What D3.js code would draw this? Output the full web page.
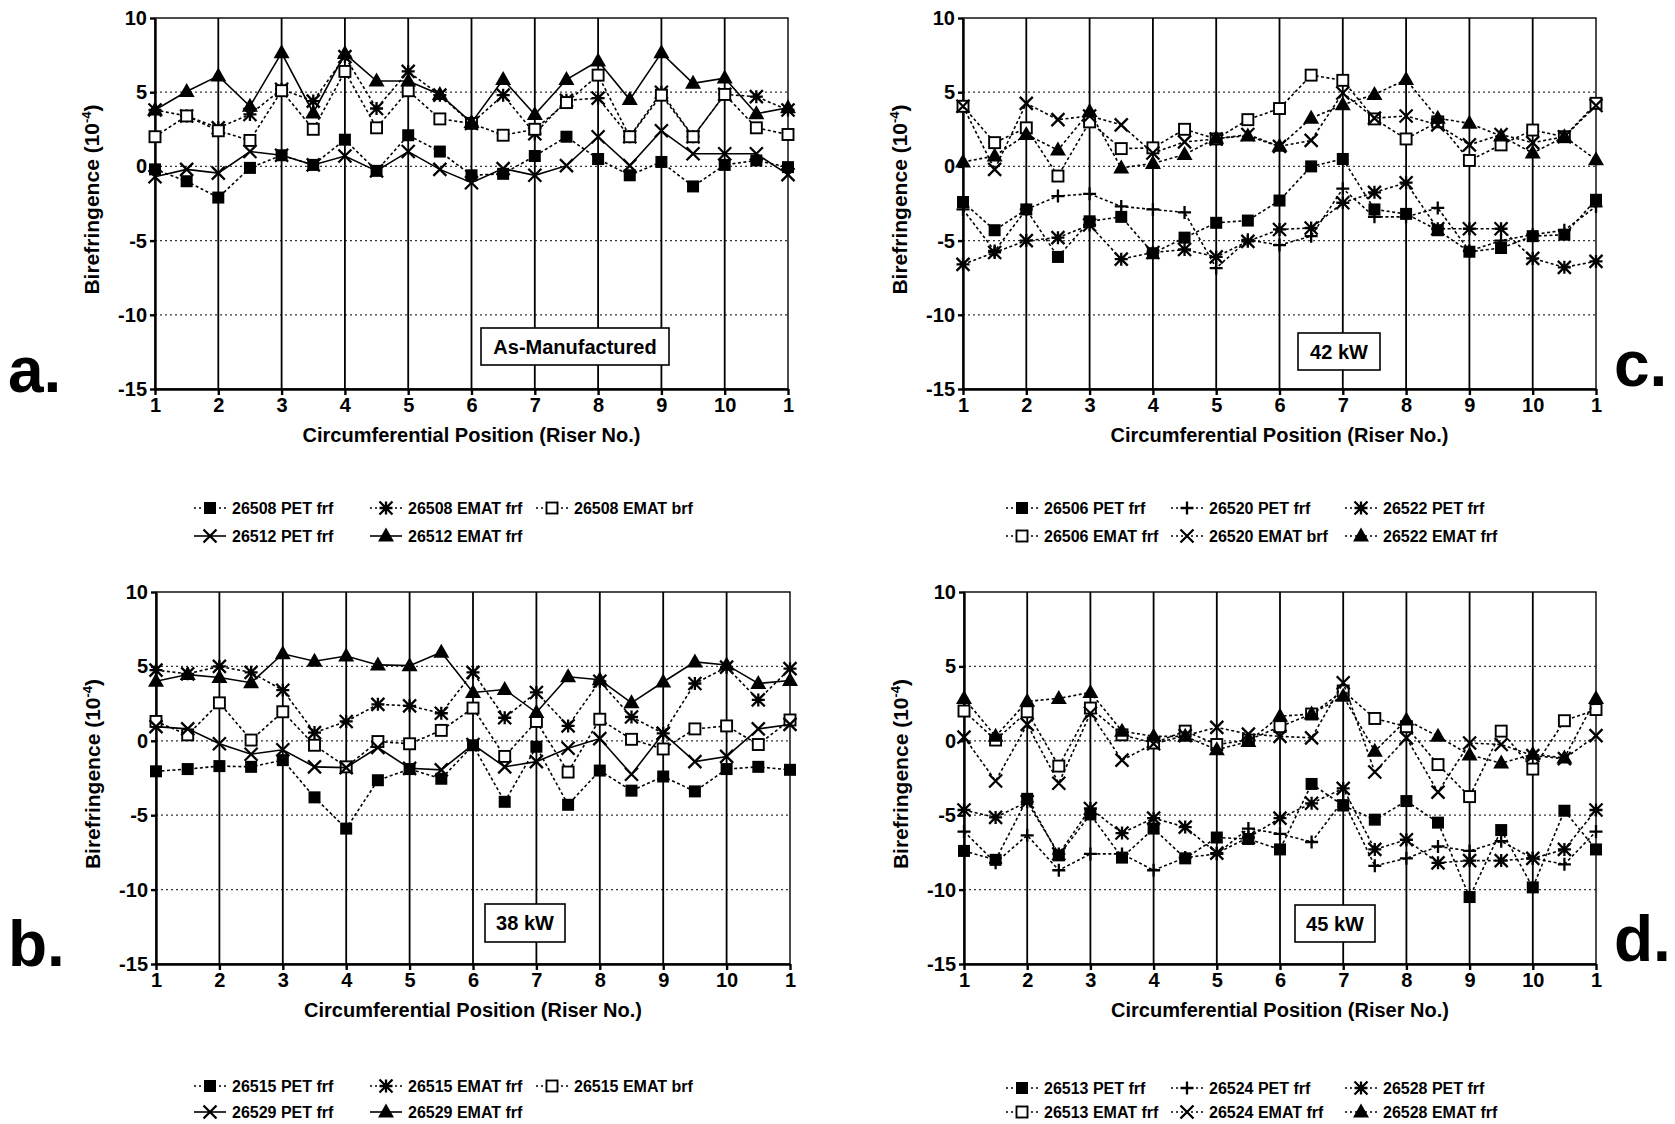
<!DOCTYPE html>
<meta charset="utf-8">
<style>
body { margin: 0; background: #fff; }
text { font-family: "Liberation Sans", Arial, sans-serif; font-weight: bold; fill: #000; }
.grid-h { stroke: #333; stroke-width: 1.2; stroke-dasharray: 2,3; }
.grid-v { stroke: #000; stroke-width: 1.8; }
.frame { fill: none; stroke: #000; stroke-width: 1.4; }
.line { fill: none; stroke: #000; stroke-width: 1.6; }
.dotted { stroke-dasharray: 3,2.5; }
.axis path, .axis line { stroke: #000; stroke-width: 2.4; }
.axis text { font-size: 20px; }
</style>
<body>
<script src="https://d3js.org/d3.v7.min.js"></script>
<script>
// x positions (riser numbers, half steps); last "1" is the wrap-around
var positions = [1,1.5,2,2.5,3,3.5,4,4.5,5,5.5,6,6.5,7,7.5,8,8.5,9,9.5,10,10.5,11];
var xTicks = [1,2,3,4,5,6,7,8,9,10,11];
var xTickLabels = ["1","2","3","4","5","6","7","8","9","10","1"];
var yTicks = [10,5,0,-5,-10,-15];

// a. As-Manufactured
var a_pet26508   = [-0.2,-1.0,-2.1,-0.1,0.75,0.1,1.8,-0.3,2.1,1.0,-0.6,-0.5,0.7,2.0,0.5,-0.6,0.3,-1.35,0.1,0.4,-0.05];
var a_emat26508  = [3.8,3.4,2.6,3.5,5.2,4.4,7.4,3.9,6.4,4.8,2.9,4.8,2.2,4.45,4.6,2.0,5.0,2.0,4.85,4.7,3.8];
var a_ematb26508 = [2.0,3.4,2.4,1.75,5.1,2.5,6.4,2.6,5.1,3.2,2.9,2.1,2.5,4.3,6.15,2.0,4.8,2.0,4.85,2.6,2.15];
var a_pet26512   = [-0.7,-0.2,-0.45,1.0,0.75,0.1,0.7,-0.3,1.0,-0.2,-1.1,-0.15,-0.6,0.05,2.0,0.05,2.4,0.85,0.85,0.85,-0.55];
var a_emat26512  = [3.8,5.05,6.1,4.05,7.65,3.6,7.6,5.75,5.75,4.85,2.95,5.85,3.5,5.85,7.1,4.5,7.65,5.6,5.95,3.55,3.95];

// c. 42 kW
var c_pet26506   = [-2.4,-4.3,-2.9,-6.1,-3.7,-3.4,-5.85,-4.8,-3.8,-3.65,-2.3,0.0,0.5,-2.9,-3.2,-4.3,-5.75,-5.5,-4.7,-4.6,-2.25];
var c_pet26520   = [-2.9,-5.7,-2.9,-2.0,-1.85,-2.7,-2.9,-3.1,-6.85,-4.95,-5.3,-4.7,-1.5,-3.4,-3.4,-2.8,-5.7,-5.0,-4.6,-4.3,-2.7];
var c_pet26522   = [-6.6,-5.8,-5.0,-4.8,-3.95,-6.25,-5.8,-5.6,-6.1,-5.05,-4.25,-4.15,-2.45,-1.75,-1.1,-4.2,-4.2,-4.2,-6.2,-6.8,-6.4];
var c_emat26506  = [4.05,1.6,2.6,-0.65,3.0,1.2,1.25,2.5,1.85,3.15,3.9,6.15,5.8,3.2,1.85,3.0,0.4,1.45,2.45,2.0,4.25];
var c_ematb26520 = [4.05,-0.2,4.25,3.15,3.4,2.8,0.9,1.65,1.85,2.15,1.35,1.75,4.95,3.25,3.4,2.8,1.45,2.15,1.6,2.0,4.1];
var c_emat26522  = [0.3,0.7,2.15,1.1,3.7,-0.1,0.2,0.8,1.9,2.05,1.35,3.25,4.15,4.85,5.85,3.25,2.9,2.05,0.9,2.0,0.45];

// b. 38 kW
var b_pet26515   = [-2.05,-1.9,-1.7,-1.75,-1.3,-3.8,-5.9,-2.65,-1.9,-2.55,-0.3,-4.1,-0.4,-4.3,-2.0,-3.35,-2.4,-3.4,-1.9,-1.75,-1.95];
var b_emat26515  = [4.75,4.5,5.0,4.6,3.4,0.55,1.3,2.45,2.35,1.85,4.6,1.55,3.25,1.0,4.0,1.6,0.5,3.85,4.95,2.75,4.85];
var b_ematb26515 = [1.3,0.4,2.55,0.05,1.95,-0.3,-1.75,-0.05,-0.2,0.7,2.2,-1.05,1.3,-2.1,1.45,0.1,-0.55,0.8,1.0,-0.25,1.4];
var b_pet26529   = [0.95,0.8,-0.2,-0.9,-0.6,-1.75,-1.8,-0.45,-1.85,-1.95,-0.25,-1.75,-1.4,-0.5,0.15,-2.25,0.5,-1.4,-1.05,0.8,1.1];
var b_emat26529  = [4.0,4.45,4.25,3.9,5.85,5.35,5.7,5.1,5.05,5.95,3.25,3.45,1.9,4.3,4.1,2.55,3.95,5.3,5.1,3.85,4.05];

// d. 45 kW
var d_pet26513   = [-7.4,-8.0,-3.9,-7.7,-4.95,-7.85,-5.9,-7.9,-6.5,-6.6,-7.3,-2.9,-4.35,-5.3,-4.05,-5.5,-10.5,-6.0,-9.85,-4.7,-7.3];
var d_pet26524   = [-6.1,-8.2,-6.35,-8.7,-7.6,-7.6,-8.7,-7.85,-7.6,-5.9,-6.25,-6.8,-4.0,-8.4,-7.9,-7.1,-7.4,-6.75,-7.9,-8.3,-6.1];
var d_pet26528   = [-4.65,-5.15,-4.1,-7.6,-4.55,-6.2,-5.2,-5.8,-7.55,-6.5,-5.2,-4.2,-3.2,-7.3,-6.65,-8.2,-8.05,-8.05,-7.9,-7.3,-4.65];
var d_emat26513  = [2.0,0.05,1.95,-1.7,2.2,0.4,-0.15,0.65,-0.25,0.05,0.95,1.8,3.35,1.5,0.95,-1.6,-3.75,0.65,-1.9,1.35,2.1];
var d_emat26524  = [0.25,-2.7,1.1,-2.85,1.85,-1.3,-0.2,0.35,0.9,0.45,0.3,0.2,3.9,-2.1,0.2,-3.45,-0.15,-0.25,-1.0,-1.2,0.35];
var d_emat26528  = [2.85,0.3,2.65,2.85,3.25,0.65,0.3,0.3,-0.6,-0.05,1.65,1.8,3.0,-0.7,1.4,0.3,-0.95,-1.5,-0.9,-1.15,2.85];

var panels = [
  { left: 155, right: 788, top: 18, bottom: 389, letter: "a.", letterX: 8, letterY: 392,
    note: "As-Manufactured", box: [481, 328, 188, 37],
    legendRows: [508, 536], legendCols: [232, 408, 574],
    series: [
      { name: "26508 PET frf",  values: a_pet26508,   marker: "sq",   dotted: true,  row: 0, col: 0 },
      { name: "26508 EMAT frf", values: a_emat26508,  marker: "star", dotted: true,  row: 0, col: 1 },
      { name: "26508 EMAT brf", values: a_ematb26508, marker: "osq",  dotted: true,  row: 0, col: 2 },
      { name: "26512 PET frf",  values: a_pet26512,   marker: "x",    dotted: false, row: 1, col: 0 },
      { name: "26512 EMAT frf", values: a_emat26512,  marker: "tri",  dotted: false, row: 1, col: 1 }
    ] },
  { left: 963, right: 1596, top: 18, bottom: 389, letter: "c.", letterX: 1614, letterY: 386,
    note: "42 kW", box: [1298, 333, 82, 37],
    legendRows: [508, 536], legendCols: [1044, 1209, 1383],
    series: [
      { name: "26506 PET frf",  values: c_pet26506,   marker: "sq",   dotted: true, row: 0, col: 0 },
      { name: "26520 PET frf",  values: c_pet26520,   marker: "plus", dotted: true, row: 0, col: 1 },
      { name: "26522 PET frf",  values: c_pet26522,   marker: "star", dotted: true, row: 0, col: 2 },
      { name: "26506 EMAT frf", values: c_emat26506,  marker: "osq",  dotted: true, row: 1, col: 0 },
      { name: "26520 EMAT brf", values: c_ematb26520, marker: "x",    dotted: true, row: 1, col: 1 },
      { name: "26522 EMAT frf", values: c_emat26522,  marker: "tri",  dotted: true, row: 1, col: 2 }
    ] },
  { left: 156, right: 790, top: 592, bottom: 964, letter: "b.", letterX: 8, letterY: 966,
    note: "38 kW", box: [485, 904, 80, 38],
    legendRows: [1086, 1112], legendCols: [232, 408, 574],
    series: [
      { name: "26515 PET frf",  values: b_pet26515,   marker: "sq",   dotted: true,  row: 0, col: 0 },
      { name: "26515 EMAT frf", values: b_emat26515,  marker: "star", dotted: true,  row: 0, col: 1 },
      { name: "26515 EMAT brf", values: b_ematb26515, marker: "osq",  dotted: true,  row: 0, col: 2 },
      { name: "26529 PET frf",  values: b_pet26529,   marker: "x",    dotted: false, row: 1, col: 0 },
      { name: "26529 EMAT frf", values: b_emat26529,  marker: "tri",  dotted: false, row: 1, col: 1 }
    ] },
  { left: 964, right: 1596, top: 592, bottom: 964, letter: "d.", letterX: 1614, letterY: 961,
    note: "45 kW", box: [1295, 905, 80, 37],
    legendRows: [1088, 1112], legendCols: [1044, 1209, 1383],
    series: [
      { name: "26513 PET frf",  values: d_pet26513,  marker: "sq",   dotted: true, row: 0, col: 0 },
      { name: "26524 PET frf",  values: d_pet26524,  marker: "plus", dotted: true, row: 0, col: 1 },
      { name: "26528 PET frf",  values: d_pet26528,  marker: "star", dotted: true, row: 0, col: 2 },
      { name: "26513 EMAT frf", values: d_emat26513, marker: "osq",  dotted: true, row: 1, col: 0 },
      { name: "26524 EMAT frf", values: d_emat26524, marker: "x",    dotted: true, row: 1, col: 1 },
      { name: "26528 EMAT frf", values: d_emat26528, marker: "tri",  dotted: true, row: 1, col: 2 }
    ] }
];

var svg = d3.select("body").append("svg")
    .attr("width", 1675)
    .attr("height", 1124);

// draw one marker shape centred on 0,0
function drawMarker(g, type) {
  if (type == "sq") {
    g.append("rect").attr("x", -6).attr("y", -6).attr("width", 12).attr("height", 12).attr("fill", "#000");
  } else if (type == "osq") {
    g.append("rect").attr("x", -5.5).attr("y", -5.5).attr("width", 11).attr("height", 11)
      .attr("fill", "#fff").attr("stroke", "#000").attr("stroke-width", 1.9);
  } else if (type == "tri") {
    g.append("path").attr("d", "M0,-8.5L8,5.5L-8,5.5Z").attr("fill", "#000");
  } else {
    var d = "";
    if (type == "x" || type == "star") d += "M-6.5,-6.5L6.5,6.5M-6.5,6.5L6.5,-6.5";
    if (type == "plus" || type == "star") d += "M-6.5,0L6.5,0M0,-6.5L0,6.5";
    g.append("path").attr("d", d).attr("stroke", "#000").attr("stroke-width", 2.3).attr("fill", "none");
  }
}

panels.forEach(function(p) {
  var x = d3.scaleLinear().domain([1, 11]).range([p.left, p.right]);
  var y = d3.scaleLinear().domain([-15, 10]).range([p.bottom, p.top]);
  var g = svg.append("g");

  // horizontal dotted grid
  g.selectAll(".grid-h").data([5, 0, -5, -10]).enter().append("line")
      .attr("class", "grid-h")
      .attr("x1", p.left).attr("x2", p.right)
      .attr("y1", function(d) { return y(d); }).attr("y2", function(d) { return y(d); });
  // vertical solid grid
  g.selectAll(".grid-v").data(xTicks.slice(1, -1)).enter().append("line")
      .attr("class", "grid-v")
      .attr("y1", p.top).attr("y2", p.bottom)
      .attr("x1", function(d) { return x(d); }).attr("x2", function(d) { return x(d); });
  // frame
  g.append("rect").attr("class", "frame")
      .attr("x", p.left).attr("y", p.top)
      .attr("width", p.right - p.left).attr("height", p.bottom - p.top);

  // axes
  g.append("g").attr("class", "axis")
      .attr("transform", "translate(" + p.left + ",0)")
      .call(d3.axisLeft(y).tickValues(yTicks).tickSize(5).tickPadding(3).tickSizeOuter(0)
        .tickFormat(function(d) { return String(d); }));
  g.append("g").attr("class", "axis")
      .attr("transform", "translate(0," + p.bottom + ")")
      .call(d3.axisBottom(x).tickValues(xTicks).tickSize(6).tickPadding(3).tickSizeOuter(0)
        .tickFormat(function(d, i) { return xTickLabels[i]; }));

  // axis titles
  g.append("text")
      .attr("x", (p.left + p.right) / 2).attr("y", p.bottom + 53)
      .attr("text-anchor", "middle").style("font-size", "20px")
      .text("Circumferential Position (Riser No.)");
  var yt = g.append("text")
      .attr("transform", "translate(" + (p.left - 56) + "," + ((p.top + p.bottom) / 2 - 4) + ") rotate(-90)")
      .attr("text-anchor", "middle").style("font-size", "21px");
  yt.append("tspan").text("Birefringence (10");
  yt.append("tspan").attr("dy", -8).style("font-size", "13px").text("-4");
  yt.append("tspan").attr("dy", 8).text(")");

  // series
  var line = d3.line()
      .x(function(d) { return x(d[0]); })
      .y(function(d) { return y(d[1]); });
  p.series.forEach(function(s) {
    var pts = positions.map(function(v, i) { return [v, s.values[i]]; });
    g.append("path").datum(pts)
        .attr("class", "line" + (s.dotted ? " dotted" : ""))
        .attr("d", line);
    pts.forEach(function(d) {
      drawMarker(g.append("g").attr("transform", "translate(" + x(d[0]) + "," + y(d[1]) + ")"), s.marker);
    });
  });

  // note box
  g.append("rect")
      .attr("x", p.box[0]).attr("y", p.box[1]).attr("width", p.box[2]).attr("height", p.box[3])
      .attr("fill", "#fff").attr("stroke", "#000").attr("stroke-width", 1.6);
  g.append("text")
      .attr("x", p.box[0] + p.box[2] / 2).attr("y", p.box[1] + p.box[3] / 2 + 7)
      .attr("text-anchor", "middle").style("font-size", "20px")
      .text(p.note);

  // panel letter
  g.append("text")
      .attr("x", p.letterX).attr("y", p.letterY)
      .style("font-size", "64px")
      .text(p.letter);

  // legend
  p.series.forEach(function(s) {
    var tx = p.legendCols[s.col], ty = p.legendRows[s.row];
    var lg = g.append("g");
    lg.append("line")
        .attr("class", "line" + (s.dotted ? " dotted" : ""))
        .attr("x1", tx - 38).attr("x2", tx - 6).attr("y1", ty).attr("y2", ty)
        .style("stroke-dasharray", s.dotted ? "2,3" : null);
    drawMarker(lg.append("g").attr("transform", "translate(" + (tx - 22) + "," + ty + ")"), s.marker);
    lg.append("text")
        .attr("x", tx).attr("y", ty + 6)
        .style("font-size", "16px")
        .text(s.name);
  });
});
</script>
</body>
